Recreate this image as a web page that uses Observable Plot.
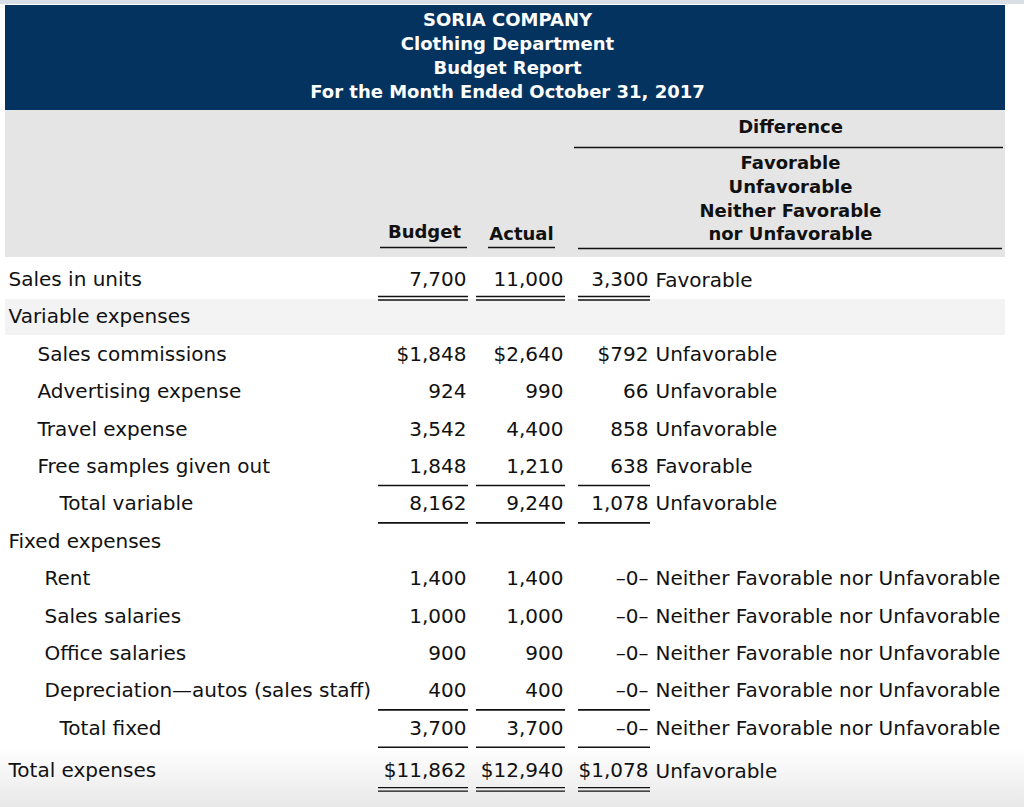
<!DOCTYPE html>
<html><head><meta charset="utf-8">
<script src="https://cdn.jsdelivr.net/npm/d3@7"></script>
<script src="https://cdn.jsdelivr.net/npm/@observablehq/plot@0.6"></script>
<style>
html,body{margin:0;padding:0;}
body{width:1024px;height:807px;overflow:hidden;background:linear-gradient(to bottom,#ffffff 0px,#ffffff 748px,#e8e8e8 807px);}
#chart svg{display:block;}
</style></head><body><div id="chart"></div>
<script>
// ---- data ----
const titleLines = ["SORIA COMPANY", "Clothing Department", "Budget Report", "For the Month Ended October 31, 2017"];
const columnHeads = ["Budget", "Actual"];
const differenceHead = "Difference";
const statusHeadLines = ["Favorable", "Unfavorable", "Neither Favorable", "nor Unfavorable"];
const rowLabels = ["Sales in units", "Variable expenses", "Sales commissions", "Advertising expense", "Travel expense", "Free samples given out", "Total variable", "Fixed expenses", "Rent", "Sales salaries", "Office salaries", "Depreciation—autos (sales staff)", "Total fixed", "Total expenses"];
const rowKinds = ["top", "section", "varItem", "varItem", "varItem", "varItem", "total", "section", "fixItem", "fixItem", "fixItem", "fixItem", "total", "top"];
const budget = [7700, null, 1848, 924, 3542, 1848, 8162, null, 1400, 1000, 900, 400, 3700, 11862];
const actual = [11000, null, 2640, 990, 4400, 1210, 9240, null, 1400, 1000, 900, 400, 3700, 12940];
const difference = [3300, null, 792, 66, 858, 638, 1078, null, 0, 0, 0, 0, 0, 1078];
const status = ["Favorable", null, "Unfavorable", "Unfavorable", "Unfavorable", "Favorable", "Unfavorable", null, "Neither Favorable nor Unfavorable", "Neither Favorable nor Unfavorable", "Neither Favorable nor Unfavorable", "Neither Favorable nor Unfavorable", "Neither Favorable nor Unfavorable", "Unfavorable"];
const dollarRows = ["Sales commissions", "Total expenses"];
const underline = ["double", null, null, null, null, "single", "single", null, null, null, null, "single", "single", "double"];

// ---- layout (code, not data) ----
const W = 1024, H = 807;
const FONT = "DejaVu Sans";
const INK = "#111111";
const indent = {top: 8, section: 8, varItem: 37, fixItem: 44, total: 59};
const rowY = i => 279 + i * 37.4 + (i === 13 ? 5 : 0);
const colRight = {budget: 466, actual: 563, diff: 648};
const statusX = 655;
const colSpan = [[378, 468], [476, 565], [578, 650]];
const fmt = d3.format(",");

const rows = rowLabels.map((label, i) => ({
  i, label, kind: rowKinds[i], y: rowY(i),
  budget: budget[i], actual: actual[i], diff: difference[i], status: status[i],
  dollar: dollarRows.includes(label), rule: underline[i]
}));
const numText = (v, dollar) => v == null ? "" : (v === 0 ? "\u20130\u2013" : (dollar ? "$" : "") + fmt(v));
const valueRows = rows.filter(r => r.budget != null);

const ruleData = [];
rows.forEach(r => {
  if (!r.rule) return;
  const offs = r.rule === "double" ? [17, 20.5] : [19];
  colSpan.forEach(([a, b]) => offs.forEach(o => ruleData.push({y: r.y + o, x1: a, x2: b, w: r.rule === "double" ? 1.3 : 1.6})));
});

const headRules = [
  {y: 147, x1: 574, x2: 1003},
  {y: 247, x1: 380, x2: 467},
  {y: 247, x1: 488, x2: 555},
  {y: 248, x1: 578, x2: 1002}
];

const boxes = [
  {x1: 0, x2: W, y1: 0, y2: 4, fill: "#d9dfe6"},
  {x1: 5, x2: 1005, y1: 5, y2: 110, fill: "#05335f"},
  {x1: 5, x2: 1005, y1: 110, y2: 257, fill: "#e5e5e5"},
  {x1: 5, x2: 1005, y1: 299, y2: 335, fill: "#f3f3f3"}
];

const chart = Plot.plot({
  width: W, height: H,
  margin: 0,
  x: {type: "identity", axis: null},
  y: {type: "identity", axis: null},
  style: {background: "transparent", overflow: "visible"},
  marks: [
    Plot.rect(boxes, {x1: "x1", x2: "x2", y1: "y1", y2: "y2", fill: d => d.fill}),
    // title
    Plot.text(titleLines, {x: 507, y: (d, i) => 20 + i * 24, text: d => d, fill: "white", fontFamily: FONT, fontWeight: "bold", fontSize: 18}),
    // header
    Plot.text([differenceHead], {x: 790, y: 127, text: d => d, fill: INK, fontFamily: FONT, fontWeight: "bold", fontSize: 18}),
    Plot.text(statusHeadLines, {x: 790, y: (d, i) => 163 + i * 23.7, text: d => d, fill: INK, fontFamily: FONT, fontWeight: "bold", fontSize: 18}),
    Plot.text(columnHeads, {x: (d, i) => [424, 521][i], y: (d, i) => 232 + i * 1.5, text: d => d, fill: INK, fontFamily: FONT, fontWeight: "bold", fontSize: 18}),
    Plot.ruleY(headRules, {y: "y", x1: "x1", x2: "x2", stroke: INK, strokeWidth: 1.6}),
    // body
    Plot.text(rows, {x: d => indent[d.kind], y: "y", text: "label", textAnchor: "start", fill: INK, fontFamily: FONT, fontSize: 20}),
    Plot.text(valueRows, {x: colRight.budget, y: "y", text: d => numText(d.budget, d.dollar), textAnchor: "end", fill: INK, fontFamily: FONT, fontSize: 20}),
    Plot.text(valueRows, {x: colRight.actual, y: "y", text: d => numText(d.actual, d.dollar), textAnchor: "end", fill: INK, fontFamily: FONT, fontSize: 20}),
    Plot.text(valueRows, {x: colRight.diff, y: "y", text: d => numText(d.diff, d.dollar), textAnchor: "end", fill: INK, fontFamily: FONT, fontSize: 20}),
    Plot.text(valueRows, {x: statusX, y: d => d.y + (d.i === 0 || d.i === 13 ? 1 : 0), text: "status", textAnchor: "start", fill: INK, fontFamily: FONT, fontSize: 20}),
    Plot.ruleY(ruleData, {y: "y", x1: "x1", x2: "x2", stroke: INK, strokeWidth: d => d.w})
  ]
});
document.getElementById("chart").appendChild(chart);
</script></body></html>
